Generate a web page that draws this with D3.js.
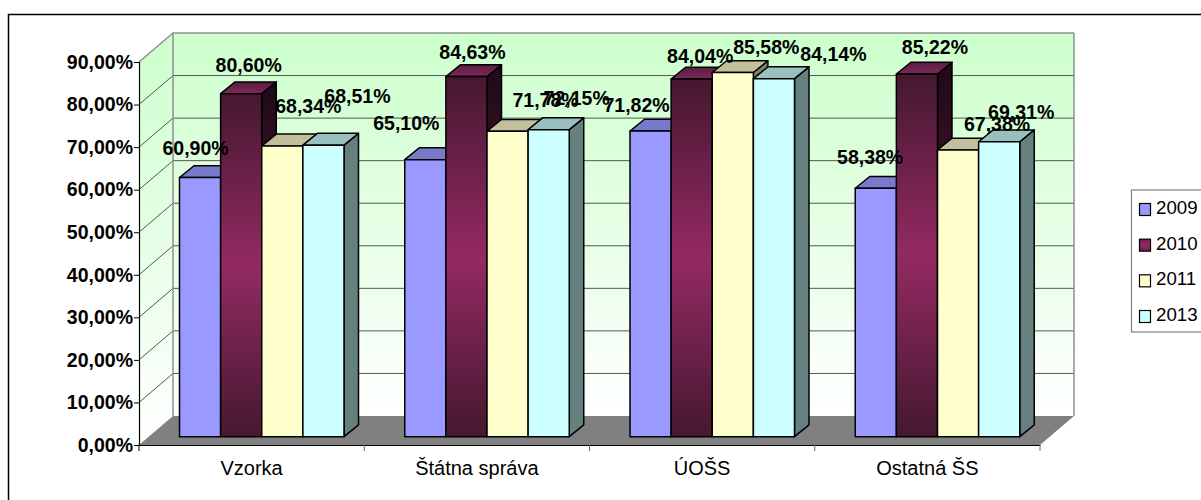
<!DOCTYPE html>
<html lang="en">

<head>
  <meta charset="UTF-8">
  <script src="https://d3js.org/d3.v7.min.js"></script>
  <style>
    html, body { margin: 0; padding: 0; background: white; overflow: hidden; }
    svg { display: block; font-family: "Liberation Sans", Arial, sans-serif; }
    .val { font-size: 19.5px; font-weight: bold; fill: #000; text-anchor: middle; dominant-baseline: central; }
    .tick-y { font-size: 19.5px; font-weight: bold; fill: #000; }
    .cat { font-size: 20px; fill: #000; }
  </style>
</head>

<body>
  <svg id="chart" width="1201" height="500"></svg>

  <script>
    const categories = ["Vzorka", "Štátna správa", "ÚOŠS", "Ostatná ŠS"];
    const years = ["2009", "2010", "2011", "2013"];
    const v2009 = [60.90, 65.10, 71.82, 58.38];
    const v2010 = [80.60, 84.63, 84.04, 85.22];
    const v2011 = [68.34, 71.78, 85.58, 67.38];
    const v2013 = [68.51, 72.15, 84.14, 69.31];
    const series = [v2009, v2010, v2011, v2013];

    // label nudges from the bar top, the labels in the picture are all over the place
    const nudgeX = [[-4.5, 7.5, 26, 34], [-19, 6, 38, 28], [-14, 8.5, 33.5, 59.5], [-5.7, 18, 39, 22]];
    const nudgeY = [[-30, -29, -40, -49], [-37, -25, -31, -32], [-26, -23, -25.6, -24.7], [-31.6, -27.4, -26, -30]];

    const fmt = v => v.toFixed(2).replace(".", ",") + "%";

    const svg = d3.select("#chart");
    const defs = svg.append("defs");

    const depth = { x: 34, y: -29 };  // wall offset
    const barDepth = { x: 14.5, y: -11.8 };
    const barLift = 8.3;

    const x0 = d3.scaleBand().domain(categories).range([139, 1040]);
    const x1 = d3.scaleBand().domain(years).range([40.5, 205]);
    const y = d3.scaleLinear().domain([0, 90]).range([445, 62]);
    const yTicks = d3.range(0, 91, 10);

    function gradient(id, stops) {
      const g = defs.append("linearGradient").attr("id", id)
        .attr("x1", 0).attr("y1", 0).attr("x2", 0).attr("y2", 1);
      stops.forEach(s => g.append("stop").attr("offset", s[0]).attr("stop-color", s[1]));
    }
    gradient("wall", [[0, "#ccffcc"], [1, "#ffffff"]]);
    gradient("maroonFront", [[0, "#451830"], [0.5, "#932a62"], [1, "#451830"]]);
    gradient("maroonSide", [[0, "#1e0a16"], [0.5, "#4a1531"], [1, "#1e0a16"]]);
    gradient("maroonTop", [[0, "#5a1c42"], [1, "#80285a"]]);
    gradient("maroonSwatch", [[0, "#701f4e"], [0.5, "#932a62"], [1, "#701f4e"]]);

    const fronts = ["#9999ff", "url(#maroonFront)", "#ffffcc", "#ccffff"];
    const tops = ["#7a7acc", "url(#maroonTop)", "#c2c09a", "#99bfbf"];
    const sides = ["#4d4d80", "url(#maroonSide)", "#808066", "#668080"];
    const swatches = ["#9999ff", "url(#maroonSwatch)", "#ffffcc", "#ccffff"];

    const xL = x0.range()[0], xR = x0.range()[1];
    const poly = pts => pts.map(p => p.join(",")).join(" ");

    // outer frame, runs off the right and bottom of the picture
    svg.append("path")
      .attr("d", "M8.5,500V14.5H1201")
      .attr("fill", "none").attr("stroke", "#000").attr("stroke-width", 1.5);

    // back wall
    svg.append("rect")
      .attr("x", xL + depth.x).attr("y", y(90) + depth.y)
      .attr("width", xR - xL).attr("height", y(0) - y(90))
      .attr("fill", "url(#wall)");
    // side wall
    svg.append("polygon")
      .attr("points", poly([[xL, y(90)], [xL + depth.x, y(90) + depth.y], [xL + depth.x, y(0) + depth.y], [xL, y(0)]]))
      .attr("fill", "url(#wall)");

    // gridlines
    svg.append("g").selectAll("polyline").data(yTicks.slice(1)).join("polyline")
      .attr("points", d => poly([[xL, y(d)], [xL + depth.x, y(d) + depth.y], [xR + depth.x, y(d) + depth.y]]))
      .attr("fill", "none")
      .attr("stroke", d => d === 90 ? "#909090" : "#555")
      .attr("stroke-width", d => d === 90 ? 1.5 : 1);

    // wall edges
    svg.append("path")
      .attr("d", `M${xL + depth.x},${y(90) + depth.y}V${y(0) + depth.y}M${xR + depth.x},${y(90) + depth.y}V${y(0) + depth.y}`)
      .attr("fill", "none").attr("stroke", "#909090").attr("stroke-width", 1.5);

    // floor
    svg.append("polygon")
      .attr("points", poly([[xL, y(0)], [xL + depth.x, y(0) + depth.y], [xR + depth.x, y(0) + depth.y], [xR, y(0)]]))
      .attr("fill", "#808080");

    // axes
    const yAxis = d3.axisLeft(y).tickValues(yTicks).tickSize(5).tickPadding(1).tickFormat(fmt);
    const gy = svg.append("g").attr("transform", `translate(${xL},0)`).call(yAxis);
    gy.selectAll("text").attr("class", "tick-y");
    gy.selectAll("line").attr("stroke", "#000");
    gy.select(".domain").attr("stroke", "#000").attr("stroke-width", 1.2);

    const xAxis = d3.axisBottom(x0).tickSize(0).tickPadding(16);
    const gx = svg.append("g").attr("transform", `translate(0,${y(0)})`).call(xAxis);
    gx.selectAll("text").attr("class", "cat");
    gx.select(".domain").attr("stroke", "#000").attr("stroke-width", 1.2);
    svg.append("g").selectAll("line").data(categories.concat("end")).join("line")
      .attr("x1", d => d === "end" ? xR : x0(d))
      .attr("x2", d => d === "end" ? xR : x0(d))
      .attr("y1", y(0)).attr("y2", y(0) + 6)
      .attr("stroke", (d, i) => i === 0 ? "#000" : "#666");

    // flatten for bars
    const bars = [];
    categories.forEach((c, i) => years.forEach((yr, j) => {
      bars.push({ cat: c, i: i, j: j, year: yr, value: series[j][i] });
    }));

    const base = y(0) - barLift;
    const barY = v => y(v) - barLift;
    const bw = x1.bandwidth();

    const barG = svg.append("g").selectAll("g").data(bars).join("g")
      .attr("transform", d => `translate(${x0(d.cat) + x1(d.year)},0)`)
      .attr("stroke", "#000").attr("stroke-width", 1.5).attr("stroke-linejoin", "round");

    barG.append("polygon")
      .attr("points", d => poly([[bw, barY(d.value)], [bw + barDepth.x, barY(d.value) + barDepth.y], [bw + barDepth.x, base + barDepth.y], [bw, base]]))
      .attr("fill", d => sides[d.j]);
    barG.append("polygon")
      .attr("points", d => poly([[0, barY(d.value)], [barDepth.x, barY(d.value) + barDepth.y], [bw + barDepth.x, barY(d.value) + barDepth.y], [bw, barY(d.value)]]))
      .attr("fill", d => tops[d.j]);
    barG.append("rect")
      .attr("x", 0).attr("y", d => barY(d.value))
      .attr("width", bw).attr("height", d => base - barY(d.value))
      .attr("fill", d => fronts[d.j]);

    // value labels
    svg.append("g").selectAll("text").data(bars).join("text")
      .attr("class", "val")
      .attr("x", d => x0(d.cat) + x1(d.year) + bw / 2 + nudgeX[d.i][d.j])
      .attr("y", d => barY(d.value) + nudgeY[d.i][d.j])
      .text(d => fmt(d.value));

    // legend
    const legend = svg.append("g");
    legend.append("rect")
      .attr("x", 1131.5).attr("y", 190).attr("width", 80).attr("height", 142)
      .attr("fill", "#fff").attr("stroke", "#808080").attr("stroke-width", 1.2);
    const legendY = d3.scalePoint().domain(years).range([209.5, 316.5]);
    legend.selectAll("rect.sw").data(years).join("rect")
      .attr("class", "sw")
      .attr("x", 1139.5).attr("y", d => legendY(d) - 6)
      .attr("width", 11).attr("height", 12)
      .attr("fill", (d, i) => swatches[i])
      .attr("stroke", "#000").attr("stroke-width", 1.2);
    legend.selectAll("text").data(years).join("text")
      .attr("x", 1156).attr("y", d => legendY(d) - 2)
      .attr("dominant-baseline", "central")
      .attr("font-size", 18.7)
      .text(d => d);
  </script>
</body>

</html>
